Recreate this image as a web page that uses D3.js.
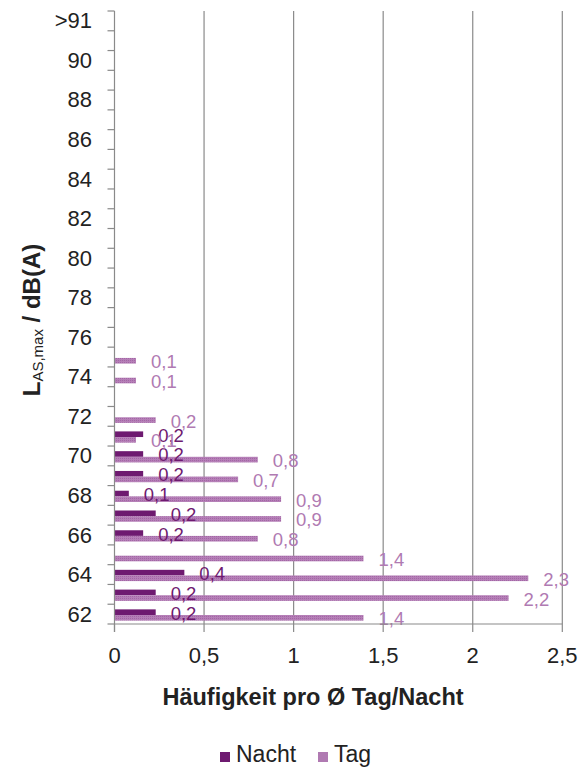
<!DOCTYPE html>
<html><head><meta charset="utf-8">
<script src="https://cdn.jsdelivr.net/npm/d3@7"></script>
<style>
html,body{margin:0;padding:0;background:#fff;}
svg{display:block;font-family:"Liberation Sans",Arial,sans-serif;}
</style></head>
<body><svg id="c" width="585" height="769"></svg>
<script>
const categories = ["62","63","64","65","66","67","68","69","70","71","72","73","74","75","76","77","78","79","80","81","82","83","84","85","86","87","88","89","90","91",">91"];
const tickLabels = ["62","64","66","68","70","72","74","76","78","80","82","84","86","88","90",">91"];
const nacht = [0.23,0.23,0.39,0,0.16,0.23,0.08,0.16,0.16,0.16,0,0,0,0,0,0,0,0,0,0,0,0,0,0,0,0,0,0,0,0,0];
const tag   = [1.39,2.20,2.31,1.39,0.80,0.93,0.93,0.69,0.80,0.12,0.23,0,0.12,0.12,0,0,0,0,0,0,0,0,0,0,0,0,0,0,0,0,0];
const xTicks = [0,0.5,1,1.5,2,2.5];
const seriesNames = ["Nacht","Tag"];
const colors = {Nacht:"#6e1a70", Tag:"#b07ab2"};

const svg = d3.select("#c");
const L = 114.5, R = 562.3, T = 11, B = 624;
const x = d3.scaleLinear().domain([0,2.5]).range([L,R]);
const y = d3.scaleBand().domain(categories.slice().reverse()).range([T,B]).padding(0);
const sub = d3.scaleBand().domain(seriesNames).range([y.bandwidth()*0.26, y.bandwidth()*0.83]).padding(0);

const defs = svg.append("defs");
const pat = defs.append("pattern").attr("id","dots").attr("width",2).attr("height",2).attr("patternUnits","userSpaceOnUse");
pat.append("rect").attr("width",2).attr("height",2).attr("fill","#b57fb7");
pat.append("rect").attr("width",1).attr("height",1).attr("fill","#a366a5");

// gridlines
svg.append("g").selectAll("line").data(xTicks.slice(1)).join("line")
  .attr("x1",d=>x(d)).attr("x2",d=>x(d)).attr("y1",T).attr("y2",B)
  .attr("stroke","#8a8a8a").attr("stroke-width",1.2);

// bars
const data = categories.map((c,i)=>({c, Nacht:nacht[i], Tag:tag[i]}));
const g = svg.append("g");
seriesNames.forEach(s=>{
  g.append("g").selectAll("rect").data(data.filter(d=>d[s]>0)).join("rect")
    .attr("x",x(0)).attr("width",d=>x(d[s])-x(0))
    .attr("y",d=>y(d.c)+sub(s)).attr("height",sub.bandwidth())
    .attr("fill", s==="Tag" ? "url(#dots)" : colors[s]);
});
// labels
const fmt = v => d3.format(".1f")(v).replace(".",",");
seriesNames.forEach(s=>{
  g.append("g").selectAll("text").data(data.filter(d=>d[s]>0)).join("text")
    .attr("x",d=>x(d[s])+15)
    .attr("y",d=>y(d.c)+sub(s)+sub.bandwidth()/2+1)
    .attr("dominant-baseline","central")
    .attr("font-size",18.5)
    .attr("fill", s==="Tag" ? "#b07ab2" : "#6e1a70")
    .text(d=>fmt(d[s]));
});

// y axis
const yAxisG = svg.append("g");
yAxisG.append("line").attr("x1",L).attr("x2",L).attr("y1",T).attr("y2",B+8).attr("stroke","#8a8a8a").attr("stroke-width",1.2);
const boundaries = d3.range(categories.length+1).map(i=>T+i*y.step());
yAxisG.selectAll("line.t").data(boundaries).join("line").attr("class","t")
  .attr("x1",L-7).attr("x2",L).attr("y1",d=>d).attr("y2",d=>d)
  .attr("stroke","#8a8a8a").attr("stroke-width",1.2);
yAxisG.selectAll("text").data(tickLabels).join("text")
  .attr("x",92).attr("y",d=>y(d)+y.bandwidth()/2)
  .attr("dominant-baseline","central").attr("text-anchor","end")
  .attr("font-size",22).attr("fill","#222").text(d=>d);

// x axis
const xAxisG = svg.append("g");
xAxisG.append("line").attr("x1",L).attr("x2",R).attr("y1",B).attr("y2",B).attr("stroke","#8a8a8a").attr("stroke-width",1.2);
xAxisG.selectAll("line.t").data(xTicks).join("line").attr("class","t")
  .attr("x1",d=>x(d)).attr("x2",d=>x(d)).attr("y1",B).attr("y2",B+8)
  .attr("stroke","#8a8a8a").attr("stroke-width",1.2);
xAxisG.selectAll("text").data(xTicks).join("text")
  .attr("x",d=>x(d)).attr("y",663).attr("text-anchor","middle")
  .attr("font-size",22).attr("fill","#222").text(d=>fmt(d).replace(",0",""));

// x title
svg.append("text").attr("x",313).attr("y",705).attr("text-anchor","middle")
  .attr("font-size",23.5).attr("font-weight","bold").attr("fill","#222")
  .text("Häufigkeit pro Ø Tag/Nacht");

// y title
const yt = svg.append("text").attr("transform","translate(40,320) rotate(-90)")
  .attr("text-anchor","middle").attr("font-weight","bold").attr("fill","#222").attr("font-size",24);
yt.append("tspan").text("L");
yt.append("tspan").attr("font-size",15).attr("font-weight","normal").attr("dy",3).text("AS,max");
yt.append("tspan").attr("dy",-3).text(" / dB(A)");

// legend
const leg = svg.append("g");
const legItems = [{n:"Nacht",x:220},{n:"Tag",x:318}];
legItems.forEach(it=>{
  leg.append("rect").attr("x",it.x).attr("y",752).attr("width",10).attr("height",10).attr("fill",colors[it.n]);
  leg.append("text").attr("x",it.x+16).attr("y",762).attr("font-size",23).attr("fill","#222").text(it.n);
});
</script></body></html>
